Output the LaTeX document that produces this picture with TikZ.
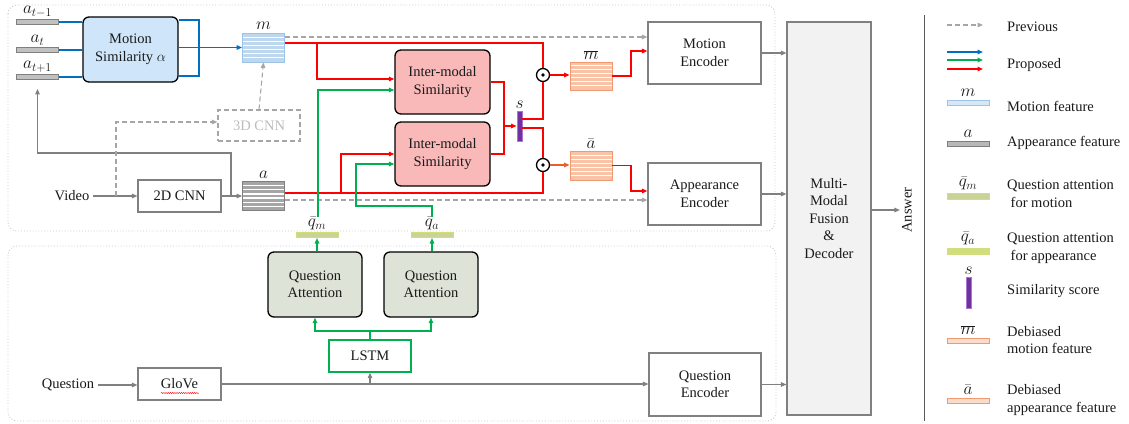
\documentclass[tikz,border=0pt]{standalone}
\usepackage{fontspec}
\setmainfont{Liberation Serif}
\usetikzlibrary{arrows.meta,decorations.pathmorphing}

\definecolor{cblue}{HTML}{0070C0}
\definecolor{cgreen}{HTML}{00B050}
\definecolor{cred}{HTML}{FF0000}
\definecolor{corange}{HTML}{E8602C}
\definecolor{cgray}{HTML}{808080}
\definecolor{dgray}{HTML}{A6A6A6}
\definecolor{framegray}{HTML}{C8C8C8}
\definecolor{txt}{HTML}{1A1A1A}
\definecolor{simfill}{HTML}{CFE6FA}
\definecolor{imfill}{HTML}{F9B9B9}
\definecolor{qafill}{HTML}{DDE3D6}
\definecolor{fusfill}{HTML}{F2F2F2}
\definecolor{mfill}{HTML}{BDD7EE}
\definecolor{mborder}{HTML}{9DC3E6}
\definecolor{afill}{HTML}{A6A6A6}
\definecolor{aborder}{HTML}{7F7F7F}
\definecolor{dbfill}{HTML}{F8C3A6}
\definecolor{dbborder}{HTML}{F09A74}
\definecolor{qfill}{HTML}{CAD296}
\definecolor{qborder}{HTML}{D2DE7C}
\definecolor{sfill}{HTML}{7030A0}
\definecolor{sborder}{HTML}{A878D0}

\tikzset{
  >={Triangle[length=5.5pt,width=4.5pt]},
  frame/.style={draw=framegray, line width=0.9pt, dotted, rounded corners=9pt},
  plain/.style={draw=cgray, line width=1.1pt, fill=white, align=center, inner sep=2pt},
  softbox/.style={draw=black, line width=1.3pt, rounded corners=6pt, align=center, inner sep=2pt},
  feat/.style 2 args={draw=#2, fill=#1, line width=0.8pt, minimum width=42pt,
    minimum height=29pt, inner sep=0pt,
    path picture={\foreach \k in {1,...,6}{
      \draw[white, line width=1.2pt]
        ([yshift=\k*4.14pt]path picture bounding box.south west) --
        ([yshift=\k*4.14pt]path picture bounding box.south east);}}},
  bar/.style 2 args={draw=#2, fill=#1, line width=0.8pt, minimum width=42pt,
    minimum height=5pt, inner sep=0pt},
  odot/.style={circle, draw=black, line width=1.3pt, fill=white, minimum size=13pt,
    inner sep=0pt, path picture={\fill[black] (path picture bounding box.center) circle (1.8pt);}},
  gline/.style={draw=cgray, line width=1.1pt},
  garrow/.style={gline, ->},
  dasharrow/.style={draw=dgray, line width=1.1pt, dash pattern=on 5pt off 3pt, ->},
  bline/.style={draw=cblue, line width=1.4pt},
  rline/.style={draw=cred, line width=1.4pt},
  nline/.style={draw=cgreen, line width=1.4pt},
  lbl/.style={inner sep=0.5pt, anchor=south, font=\fontsize{16.5}{18}\selectfont},
  lg/.style={anchor=west, align=left, inner sep=0pt},
}

\begin{document}
\begin{tikzpicture}[x=1pt, y=-1pt, font=\fontsize{14.5}{17.5}\selectfont, text=txt]
\useasboundingbox (0,0) rectangle (1129,423);

% two grouping frames
\draw[frame] (8,5) rectangle (775,231);
\draw[frame] (8,246) rectangle (776,421);

% ---------------- video branch ----------------
\node[bar={afill!70}{aborder}] (at1) at (37.5,22) {};
\node[bar={afill!70}{aborder}] (at0) at (37.5,50) {};
\node[bar={afill!70}{aborder}] (at2) at (37.5,77) {};
\node[lbl] (lat1) at ([yshift=1pt]at1.north) {$a_{t-1}$};
\node[lbl] (lat0) at ([yshift=1pt]at0.north) {$a_{t}$};
\node[lbl] (lat2) at ([yshift=1pt]at2.north) {$a_{t+1}$};

\node[softbox, fill=simfill, minimum width=95pt, minimum height=65pt] (ms) at (130.5,49.5) {Motion\\Similarity $\alpha$};

\node[feat={mfill}{mborder}] (m) at (263.5,47.5) {};
\node[lbl] (lm) at ([yshift=2pt]m.north) {$m$};

\node[draw=dgray, line width=1.1pt, dash pattern=on 5pt off 3pt, text=dgray!75,
      minimum width=82pt, minimum height=31pt, inner sep=0pt] (cnn3) at (259,125.5) {3D CNN};

\node[inner sep=1pt] (video) at (72,196) {Video};
\node[plain, minimum width=83pt, minimum height=32pt] (cnn2) at (179.5,196) {2D CNN};

\node[feat={afill}{aborder}] (a) at (263.5,196) {};
\node[lbl] (la) at ([yshift=2pt]a.north) {$a$};

% blue motion-similarity wiring
\draw[bline] (at1.east) -- (at1.east -| ms.west);
\draw[bline] (at0.east) -- (at0.east -| ms.west);
\draw[bline] (at2.east) -- (at2.east -| ms.west);
\coordinate (bkt) at (199,20);
\coordinate (bkb) at (199,76);
\draw[bline] (bkt -| ms.east) -- (bkt) -- (bkb) -- (bkb -| ms.east);
\draw[bline, ->] (ms.east |- m.west) -- (m.west);

% gray video wiring
\draw[garrow, shorten <=3pt] (video.east) -- (cnn2.west);
\draw[garrow] (cnn2.east) -- (a.west);
\coordinate (br) at (231,196);
\coordinate (loopc) at (37.5,153);
\draw[garrow] (br) |- (loopc) -- ([yshift=-9pt]at2.south);
\coordinate (vb) at (116,196);
\draw[dasharrow] (vb) |- ([yshift=3.5pt]cnn3.west);
\draw[dasharrow] (cnn3.north) -- (m.south);

% ---------------- inter-modal similarity ----------------
\node[softbox, fill=imfill, minimum width=95pt, minimum height=64pt] (im1) at (442.5,82) {Inter-modal\\Similarity};
\node[softbox, fill=imfill, minimum width=95pt, minimum height=64pt] (im2) at (442.5,154) {Inter-modal\\Similarity};

\node[draw=sborder, fill=sfill, line width=0.9pt, minimum width=5pt, minimum height=30pt, inner sep=0pt] (s) at (519.5,126) {};
\node[lbl] (ls) at ([yshift=1pt]s.north) {$s$};

\node[odot] (c1) at (543,75) {};
\node[odot] (c2) at (543,165) {};

\node[feat={dbfill}{dbborder}, minimum height=28pt] (mb) at (591,76) {};
\node[lbl] (lmb) at ([yshift=1pt]mb.north) {$\overline{m}$};
\node[feat={dbfill}{dbborder}] (ab) at (591,165.5) {};
\node[lbl] (lab) at ([yshift=1pt]ab.north) {$\bar{a}$};

\node[plain, minimum width=113pt, minimum height=62pt] (menc) at (704.5,53) {Motion\\Encoder};
\node[plain, minimum width=113pt, minimum height=62pt] (aenc) at (704.5,194) {Appearance\\Encoder};

% previous (dashed) shortcuts to the encoders
\draw[dasharrow] ([yshift=10.5pt]m.east) -- ([yshift=10.5pt]m.east -| menc.west);
\draw[dasharrow] ([yshift=-4pt]a.east) -- ([yshift=-4pt]a.east -| aenc.west);

% red feature wiring
\draw[rline] ([yshift=4.5pt]m.east) -| (c1.north);
\coordinate (rb1) at (317,43);
\draw[rline, ->] (rb1) |- ([yshift=3pt]im1.west);
\draw[rline] ([yshift=3pt]a.east) -| (c2.south);
\coordinate (rb2) at (341,193);
\draw[rline, ->] (rb2) |- (im2.west);
\coordinate (sj) at (504,126);
\draw[rline] (im1.east) -| (sj) |- (im2.east);
\draw[rline, ->] (sj) -- (s.west);
\draw[rline] ([yshift=7pt]s.east) -| (c1.south);
\draw[rline] ([yshift=-2pt]s.east) -| (c2.north);
\draw[rline, ->] (c1.east) -- (c1.east -| mb.west);
\draw[draw=corange, line width=1.4pt, ->] (c2.east) -- (c2.east -| ab.west);
\coordinate (mj) at (631,76);
\draw[rline, ->] (mb.east) -- (mj) |- ([yshift=2pt]menc.west);
\coordinate (aj) at (631,165.5);
\draw[rline, ->] (ab.east) -- (aj) |- ([yshift=3pt]aenc.west);

% ---------------- question branch ----------------
\node[bar={qfill}{qborder}, line width=1pt] (qm) at (317,235) {};
\node[lbl] (lqm) at ([yshift=1pt]qm.north) {$\bar{q}_m$};
\node[bar={qfill}{qborder}, line width=1pt] (qa) at (432,235) {};
\node[lbl] (lqa) at ([yshift=1pt]qa.north) {$\bar{q}_a$};

\node[softbox, fill=qafill, minimum width=94pt, minimum height=65pt] (qa1) at (315,284.5) {Question\\Attention};
\node[softbox, fill=qafill, minimum width=94pt, minimum height=65pt] (qa2) at (431,284.5) {Question\\Attention};

\node[draw=cgreen, line width=1.4pt, minimum width=82pt, minimum height=32pt, inner sep=0pt] (lstm) at (370,356) {LSTM};

\node[inner sep=1pt] (question) at (68,385) {Question};
\node[plain, minimum width=83pt, minimum height=32pt] (glove) at (179.5,384) {GloVe};
\draw[cred, line width=0.4pt, decorate, decoration={snake, amplitude=0.6pt, segment length=2.2pt}]
  (161,393) -- (199,393);

\node[plain, minimum width=112pt, minimum height=63pt] (qenc) at (705,384.5) {Question\\Encoder};

\draw[garrow, shorten <=3pt] (question.east) -- (question.east -| glove.west);
\draw[garrow] (glove.east) -- (glove.east -| qenc.west);
\coordinate (lb) at (370,384);
\draw[garrow] (lb) -- (lstm.south);

\coordinate (lj) at (370,331);
\draw[nline] (lstm.north) -- (lj);
\draw[nline, ->] (lj) -| (qa1.south);
\draw[nline, ->] (lj) -| (qa2.south);
\draw[nline, ->] (qm.south |- qa1.north) -- (qm.south);
\draw[nline, ->] (qa.south |- qa2.north) -- (qa.south);

% attended question features feed the inter-modal blocks from above their labels
\draw[nline, ->] ([xshift=1pt]lqm.north) |- ([yshift=-8pt]im1.west);
\coordinate (qk) at (356,206);
\draw[nline, ->] (lqa.north) |- (qk) |- ([yshift=-10pt]im2.west);

% ---------------- fusion & answer ----------------
\node[draw=cgray, line width=1.1pt, fill=fusfill, minimum width=84pt, minimum height=393pt,
      align=center, inner sep=0pt] (fus) at (829,218.5) {Multi-\\Modal\\Fusion\\\&\\Decoder};
\draw[garrow] (menc.east) -- (menc.east -| fus.west);
\draw[garrow] (aenc.east) -- (aenc.east -| fus.west);
\draw[garrow] (qenc.east) -- (qenc.east -| fus.west);

\node[rotate=90, inner sep=2pt] (ans) at (907,210) {Answer};
\draw[garrow] (fus.east |- ans.north) -- (ans.north);

% ---------------- legend ----------------
\draw[draw=black!65, line width=1pt] (924,15) -- (924,421);

\coordinate (p0) at (947,25);  \coordinate (p1) at (983,25);
\draw[dasharrow] (p0) -- (p1);
\node[lg] (tprev) at (1007,27) {Previous};

\coordinate (b0) at (947,52);  \coordinate (b1) at (983,52);
\coordinate (g0) at (947,60);  \coordinate (g1) at (983,60);
\coordinate (r0) at (947,69);  \coordinate (r1) at (983,69);
\draw[bline, ->] (b0) -- (b1);
\draw[nline, ->] (g0) -- (g1);
\draw[rline, ->] (r0) -- (r1);
\node[lg] (tprop) at (1007,65) {Proposed};

\node[bar={mfill!60}{mborder}] (lgm) at (968,102.5) {};
\node[lbl] (lgml) at ([yshift=2pt]lgm.north) {$m$};
\node[lg] (tm) at (1007,106) {Motion feature};

\node[bar={afill!80}{aborder}] (lga) at (968,143.5) {};
\node[lbl] (lgal) at ([yshift=2pt]lga.north) {$a$};
\node[lg] (ta) at (1007,143) {Appearance feature};

\node[bar={qfill}{qborder}, minimum height=6pt, line width=1pt] (lgqm) at (968,196) {};
\node[lbl] (lgqml) at ([yshift=2pt]lgqm.north) {$\bar{q}_m$};
\node[lg] (tqm) at (1007,194) {Question attention\\\hspace{3.5pt}for motion};

\node[bar={qborder!90!qfill}{qborder}, minimum height=6pt, line width=1pt] (lgqa) at (968,251.5) {};
\node[lbl] (lgqal) at ([yshift=2pt]lgqa.north) {$\bar{q}_a$};
\node[lg] (tqa) at (1007,248) {Question attention\\\hspace{3.5pt}for appearance};

\node[draw=sborder, fill=sfill, line width=0.9pt, minimum width=5pt, minimum height=31pt, inner sep=0pt] (lgs) at (968.5,292.5) {};
\node[lbl] (lgsl) at ([yshift=1pt]lgs.north) {$s$};
\node[lg] (ts) at (1007,291) {Similarity score};

\node[bar={dbfill!60}{dbborder}] (lgmb) at (968,340.5) {};
\node[lbl] (lgmbl) at ([yshift=2pt]lgmb.north) {$\overline{m}$};
\node[lg] (tmb) at (1007,340) {Debiased\\motion feature};

\node[bar={dbfill!60}{dbborder}] (lgab) at (968,400.5) {};
\node[lbl] (lgabl) at ([yshift=2pt]lgab.north) {$\bar{a}$};
\node[lg] (tab) at (1007,400) {Debiased\\appearance feature};
\end{tikzpicture}
\end{document}
